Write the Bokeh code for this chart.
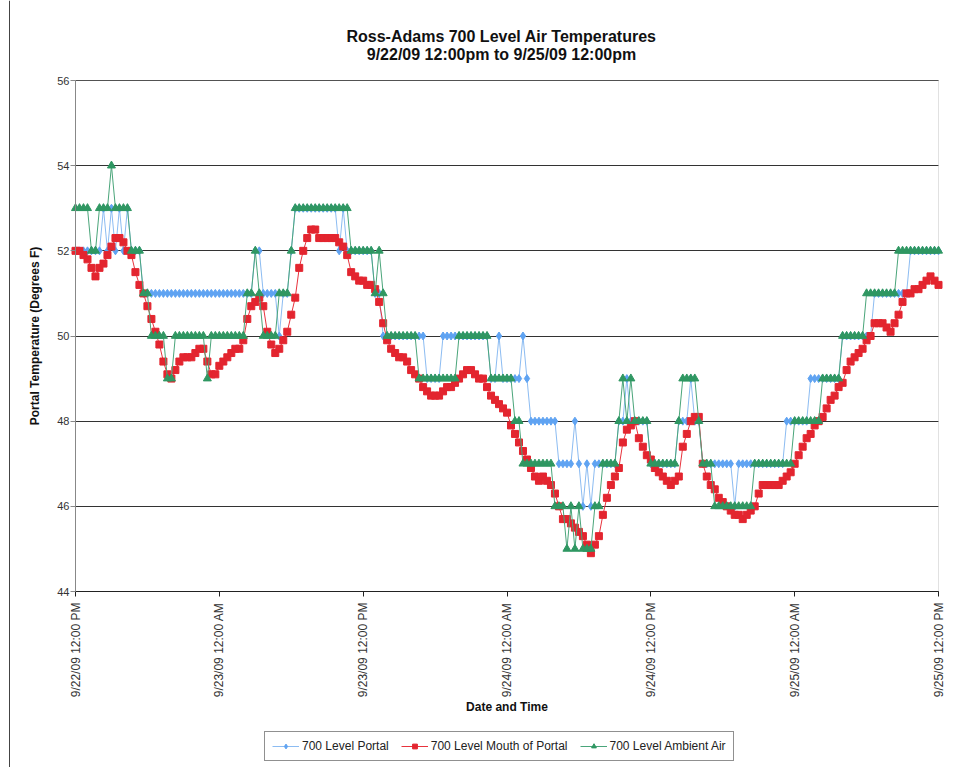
import numpy as np
from bokeh.plotting import figure
from bokeh.models import (Range1d, FixedTicker, Legend, LegendItem, BoxAnnotation,
                          Label, Span)
from bokeh.embed import file_html
from bokeh.resources import INLINE

# ---------------- data ----------------
SAMPLE_MINUTES = 20          # one reading every 20 minutes, 9/22/09 12:00 PM -> 9/25/09 12:00 PM
TICK_HOURS = [0, 12, 24, 36, 48, 60, 72]
TICK_LABELS = ["9/22/09 12:00 PM", "9/23/09 12:00 AM", "9/23/09 12:00 PM",
               "9/24/09 12:00 AM", "9/24/09 12:00 PM", "9/25/09 12:00 AM",
               "9/25/09 12:00 PM"]
Y_TICKS = [44, 46, 48, 50, 52, 54, 56]
Y_MIN, Y_MAX = 44, 56
X_MIN, X_MAX = 0, 72

PORTAL = [
    52, 52, 52, 52, 52, 52, 52, 53, 52, 53,
    52, 53, 52, 53, 52, 52, 52, 51, 51, 51,
    51, 51, 51, 51, 51, 51, 51, 51, 51, 51,
    51, 51, 51, 51, 51, 51, 51, 51, 51, 51,
    51, 51, 51, 51, 51, 52, 52, 51, 51, 51,
    51, 50, 51, 51, 52, 53, 53, 53, 53, 53,
    53, 53, 53, 53, 53, 53, 52, 53, 52, 52,
    52, 52, 52, 52, 52, 51, 51, 50, 50, 50,
    50, 50, 50, 50, 50, 50, 50, 50, 49, 49,
    49, 49, 50, 50, 50, 50, 50, 50, 50, 50,
    50, 50, 50, 50, 49, 49, 50, 49, 49, 49,
    49, 49, 50, 49, 48, 48, 48, 48, 48, 48,
    48, 47, 47, 47, 47, 48, 47, 46, 47, 46,
    47, 47, 47, 47, 47, 47, 48, 48, 49, 48,
    48, 48, 48, 48, 47, 47, 47, 47, 47, 47,
    47, 48, 48, 48, 49, 48, 48, 47, 47, 47,
    47, 47, 47, 47, 47, 46, 47, 47, 47, 47,
    47, 47, 47, 47, 47, 47, 47, 47, 48, 48,
    48, 48, 48, 48, 49, 49, 49, 49, 49, 49,
    49, 49, 50, 50, 50, 50, 50, 50, 50, 50,
    51, 51, 51, 51, 51, 51, 51, 51, 51, 52,
    52, 52, 52, 52, 52, 52, 52,
]

MOUTH = [
    52.0, 52.0, 51.9, 51.8, 51.6, 51.4, 51.6, 51.7, 51.9, 52.1,
    52.3, 52.3, 52.2, 52.0, 51.9, 51.5, 51.2, 51.0, 50.7, 50.4,
    50.1, 49.8, 49.4, 49.1, 49.0, 49.2, 49.4, 49.5, 49.5, 49.5,
    49.6, 49.7, 49.7, 49.4, 49.1, 49.1, 49.3, 49.4, 49.5, 49.6,
    49.7, 49.7, 49.9, 50.4, 50.7, 50.8, 50.9, 50.7, 50.1, 49.8,
    49.6, 49.7, 49.9, 50.1, 50.5, 50.9, 51.6, 52.0, 52.3, 52.5,
    52.5, 52.3, 52.3, 52.3, 52.3, 52.3, 52.2, 52.1, 51.9, 51.5,
    51.4, 51.3, 51.3, 51.2, 51.2, 51.1, 50.8, 50.3, 49.9, 49.7,
    49.6, 49.5, 49.5, 49.4, 49.2, 49.1, 49.0, 48.8, 48.7, 48.6,
    48.6, 48.6, 48.7, 48.8, 48.8, 48.9, 49.0, 49.1, 49.2, 49.2,
    49.1, 49.0, 49.0, 48.8, 48.6, 48.5, 48.4, 48.3, 48.2, 47.9,
    47.7, 47.5, 47.3, 47.1, 46.9, 46.7, 46.6, 46.7, 46.6, 46.5,
    46.3, 46.0, 45.7, 45.7, 45.6, 45.5, 45.4, 45.3, 45.1, 44.9,
    45.1, 45.3, 45.8, 46.2, 46.5, 46.7, 46.9, 47.5, 47.8, 47.9,
    48.0, 47.6, 47.4, 47.2, 47.1, 46.9, 46.8, 46.7, 46.6, 46.5,
    46.6, 46.7, 47.4, 47.7, 48.0, 48.1, 48.1, 47.0, 46.7, 46.5,
    46.4, 46.2, 46.1, 46.0, 45.9, 45.8, 45.8, 45.7, 45.8, 45.9,
    46.0, 46.3, 46.5, 46.5, 46.5, 46.5, 46.5, 46.6, 46.7, 46.8,
    47.0, 47.2, 47.4, 47.6, 47.7, 47.9, 48.0, 48.1, 48.3, 48.5,
    48.6, 48.8, 48.9, 49.2, 49.4, 49.5, 49.6, 49.7, 49.9, 50.0,
    50.3, 50.3, 50.3, 50.2, 50.1, 50.3, 50.5, 50.8, 51.0, 51.0,
    51.1, 51.1, 51.2, 51.3, 51.4, 51.3, 51.2,
]

AMBIENT = [
    53, 53, 53, 53, 52, 52, 53, 53, 53, 54,
    53, 53, 53, 53, 52, 52, 52, 51, 51, 50,
    50, 50, 50, 49, 49, 50, 50, 50, 50, 50,
    50, 50, 50, 49, 50, 50, 50, 50, 50, 50,
    50, 50, 50, 51, 51, 52, 51, 50, 50, 50,
    50, 51, 51, 51, 52, 53, 53, 53, 53, 53,
    53, 53, 53, 53, 53, 53, 53, 53, 53, 52,
    52, 52, 52, 52, 52, 51, 52, 51, 50, 50,
    50, 50, 50, 50, 50, 50, 49, 49, 49, 49,
    49, 49, 49, 49, 49, 49, 50, 50, 50, 50,
    50, 50, 50, 50, 49, 49, 49, 49, 49, 49,
    48, 48, 47, 47, 47, 47, 47, 47, 47, 47,
    46, 46, 46, 45, 46, 45, 46, 45, 45, 45,
    46, 46, 47, 47, 47, 47, 48, 49, 48, 49,
    48, 48, 48, 48, 47, 47, 47, 47, 47, 47,
    47, 48, 49, 49, 49, 49, 48, 47, 47, 47,
    46, 46, 46, 46, 46, 46, 46, 46, 46, 46,
    47, 47, 47, 47, 47, 47, 47, 47, 47, 47,
    48, 48, 48, 48, 48, 48, 48, 49, 49, 49,
    49, 49, 50, 50, 50, 50, 50, 50, 51, 51,
    51, 51, 51, 51, 51, 51, 52, 52, 52, 52,
    52, 52, 52, 52, 52, 52, 52,
]

SERIES_NAMES = ["700 Level Portal", "700 Level Mouth of Portal", "700 Level Ambient Air"]
TITLE_LINE1 = "Ross-Adams 700 Level Air Temperatures"
TITLE_LINE2 = "9/22/09 12:00pm to 9/25/09 12:00pm"

# sample times in hours since 9/22/09 12:00 PM
hours = np.arange(len(MOUTH)) * SAMPLE_MINUTES / 60.0

FONT = "Liberation Sans"

# ---------------- layout (pixels) ----------------
CANVAS_W, CANVAS_H = 956, 767
AREA_L, AREA_R, AREA_T, AREA_B = 75, 938, 80, 591     # data area inside the canvas
xpp = (X_MAX - X_MIN) / (AREA_R - AREA_L)              # hours per pixel
ypp = (Y_MAX - Y_MIN) / (AREA_B - AREA_T)              # degrees per pixel

# the frame covers the whole canvas; axes are drawn at fixed locations inside it
p = figure(frame_width=CANVAS_W, frame_height=CANVAS_H,
           x_range=Range1d(X_MIN - AREA_L * xpp, X_MAX + (CANVAS_W - AREA_R) * xpp),
           y_range=Range1d(Y_MIN - (CANVAS_H - AREA_B) * ypp, Y_MAX + AREA_T * ypp),
           output_backend="svg", toolbar_location=None, title=None, min_border=0)

p.background_fill_color = "white"
p.border_fill_color = "white"
p.outline_line_color = None

# outer chart border on the left and the plot-area border (Excel style)
p.add_layout(Span(location=X_MIN - (AREA_L - 9) * xpp, dimension="height",
                  line_color="#444444", line_width=1))
p.add_layout(BoxAnnotation(left=X_MIN, right=X_MAX, bottom=Y_MIN, top=Y_MAX,
                           fill_alpha=0, line_color="#9a9a9a", line_width=1,
                           level="underlay"))

# title (two centred lines)
title_x = X_MIN + (501 - AREA_L) * xpp
for txt, ty in ((TITLE_LINE1, 36), (TITLE_LINE2, 54)):
    p.add_layout(Label(x=title_x, y=Y_MAX + (AREA_T - ty) * ypp, text=txt,
                       text_align="center", text_baseline="middle",
                       text_font=FONT, text_font_size="16px", text_font_style="bold",
                       text_color="#111111"))

# axes
p.xaxis.fixed_location = Y_MIN
p.yaxis.fixed_location = X_MIN
p.xaxis.ticker = FixedTicker(ticks=TICK_HOURS)
p.xaxis.major_label_overrides = {h: lab for h, lab in zip(TICK_HOURS, TICK_LABELS)}
p.xaxis.major_label_orientation = np.pi / 2
p.xaxis.bounds = (X_MIN, X_MAX)
p.xaxis.axis_label = "Date and Time"
p.yaxis.ticker = FixedTicker(ticks=Y_TICKS)
p.yaxis.bounds = (Y_MIN, Y_MAX)
p.yaxis.axis_label = "Portal Temperature (Degrees F)"

for ax in (p.xaxis, p.yaxis):
    ax.major_label_text_font = FONT
    ax.major_label_text_color = "#333333"
    ax.axis_label_text_font = FONT
    ax.axis_label_text_font_size = "12px"
    ax.axis_label_text_font_style = "bold"
    ax.axis_label_text_color = "#111111"
    ax.major_tick_in = 0
    ax.major_tick_out = 5
    ax.minor_tick_line_color = None
p.xaxis.major_label_text_font_size = "12px"
p.yaxis.major_label_text_font_size = "11px"
p.xaxis.axis_line_color = "#222222"
p.xaxis.major_tick_line_color = "#222222"
p.yaxis.axis_line_color = "#888888"
p.yaxis.major_tick_line_color = "#888888"
p.yaxis.axis_label_standoff = 12
p.yaxis.major_label_standoff = 1
p.xaxis.major_label_standoff = 6
p.xaxis.axis_label_standoff = 0

# horizontal gridlines only across the data area
p.xgrid.grid_line_color = None
ygrid = p.ygrid[0]
if "cross_bounds" in ygrid.properties():
    ygrid.cross_bounds = (X_MIN, X_MAX)
    ygrid.grid_line_color = "#333333"
else:
    ygrid.grid_line_color = None
    p.segment(x0=X_MIN, x1=X_MAX, y0=Y_TICKS, y1=Y_TICKS,
              line_color="#333333", line_width=1, level="underlay")

# series (Excel order: portal, mouth, ambient on top)
bl = p.line(hours, PORTAL, line_color="#8cbcf2", line_width=1)
bs = p.scatter(hours, PORTAL, marker="diamond", size=8, fill_color="#5fa3f2",
               line_color="#5fa3f2")
rl = p.line(hours, MOUTH, line_color="#e8333d", line_width=1)
rs = p.scatter(hours, MOUTH, marker="square", size=7, fill_color="#e3252f",
               line_color="#e3252f")
gl = p.line(hours, AMBIENT, line_color="#4aa57a", line_width=1)
gs = p.scatter(hours, AMBIENT, marker="triangle", size=8, fill_color="#2f9762",
               line_color="#2f9762")

legend = Legend(items=[LegendItem(label=SERIES_NAMES[0], renderers=[bl, bs]),
                       LegendItem(label=SERIES_NAMES[1], renderers=[rl, rs]),
                       LegendItem(label=SERIES_NAMES[2], renderers=[gl, gs])],
                orientation="horizontal", location=(264, 6),
                label_text_font=FONT, label_text_font_size="12px",
                label_text_color="#222222",
                border_line_color="#222222", border_line_width=1,
                glyph_width=27, glyph_height=12, spacing=12, padding=7,
                label_standoff=3, margin=0)
p.add_layout(legend)

open("out.html", "w").write(file_html(p, INLINE))
